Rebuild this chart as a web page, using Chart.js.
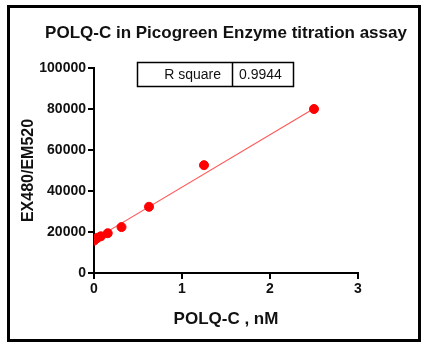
<!DOCTYPE html>
<html>
<head>
<meta charset="utf-8">
<script src="https://cdn.jsdelivr.net/npm/chart.js@4/dist/chart.umd.min.js"></script>
<style>
  html, body { margin: 0; padding: 0; background: #fff; }
  #wrap { width: 428px; height: 350px; position: relative; }
</style>
</head>
<body>
<div id="wrap"><canvas id="titration"></canvas></div>
<script>
// POLQ-C concentration (nM) vs fluorescence
const concNm = [0, 0.0195, 0.039, 0.078, 0.156, 0.3125, 0.625, 1.25, 2.5];
const signal = [15800, 16600, 17200, 17900, 19400, 22400, 32300, 52600, 80000];
// linear fit endpoints
const fitX = [0, 2.5];
const fitY = [16300, 80200];
const rSquare = "0.9944";
const xTicks = [0, 1, 2, 3];
const yTicks = [0, 20000, 40000, 60000, 80000, 100000];

const FONT = "'Liberation Sans', Arial, sans-serif";

const framePlugin = {
  id: "frame",
  afterDraw(chart) {
    const { ctx } = chart;
    ctx.save();
    // outer border
    ctx.strokeStyle = "#000";
    ctx.lineWidth = 3;
    ctx.strokeRect(8.5, 6.5, 411, 334);

    // title
    ctx.fillStyle = "#111";
    ctx.font = `bold 17px ${FONT}`;
    ctx.textAlign = "center";
    ctx.textBaseline = "middle";
    ctx.fillText("POLQ-C in Picogreen Enzyme titration assay", 226, 33);

    // R square table
    ctx.lineWidth = 1.5;
    ctx.strokeRect(137.5, 62.5, 156, 24);
    ctx.beginPath();
    ctx.moveTo(232.5, 62.5);
    ctx.lineTo(232.5, 86.5);
    ctx.stroke();
    ctx.font = `14px ${FONT}`;
    ctx.textAlign = "right";
    ctx.fillText("R square", 221, 75);
    ctx.textAlign = "left";
    ctx.fillText(rSquare, 239, 75);
    ctx.restore();
  },
};

const tickFont = { family: FONT, size: 14, weight: "bold" };
const axisGrid = { drawOnChartArea: false, drawTicks: true, tickLength: 6, color: "#000", lineWidth: 2 };

new Chart(document.getElementById("titration"), {
  type: "scatter",
  data: {
    datasets: [
      {
        label: "data",
        data: concNm.map((x, i) => ({ x, y: signal[i] })),
        backgroundColor: "#ff0000",
        borderColor: "#ff0000",
        pointRadius: 4.5,
        pointHoverRadius: 4.5,
        order: 1,
      },
      {
        type: "line",
        label: "fit",
        data: fitX.map((x, i) => ({ x, y: fitY[i] })),
        borderColor: "#ff5a5a",
        borderWidth: 1.2,
        pointRadius: 0,
        fill: false,
        order: 2,
      },
    ],
  },
  options: {
    responsive: true,
    maintainAspectRatio: false,
    animation: false,
    layout: { padding: { left: 0, top: 68, right: 70, bottom: 20 } },
    plugins: {
      legend: { display: false },
      tooltip: { enabled: false },
    },
    scales: {
      x: {
        type: "linear",
        min: 0,
        max: 3,
        afterBuildTicks: (scale) => { scale.ticks = xTicks.map((v) => ({ value: v })); },
        afterFit: (scale) => { scale.height = 57; },
        border: { color: "#000", width: 2 },
        grid: axisGrid,
        ticks: { color: "#111", padding: 2, font: tickFont, callback: (v) => String(v) },
        title: {
          display: true,
          text: "POLQ-C , nM",
          color: "#111",
          padding: 0,
          font: { family: FONT, size: 17, weight: "bold" },
        },
      },
      y: {
        type: "linear",
        min: 0,
        max: 100000,
        afterBuildTicks: (scale) => { scale.ticks = yTicks.map((v) => ({ value: v })); },
        afterFit: (scale) => { scale.width = 94; },
        border: { color: "#000", width: 2 },
        grid: axisGrid,
        ticks: { color: "#111", padding: 2, font: tickFont, callback: (v) => String(v) },
        title: {
          display: true,
          text: "EX480/EM520",
          color: "#111",
          padding: { top: 19 },
          font: { family: FONT, size: 16, weight: "bold" },
        },
      },
    },
  },
  plugins: [framePlugin],
});
</script>
</body>
</html>
